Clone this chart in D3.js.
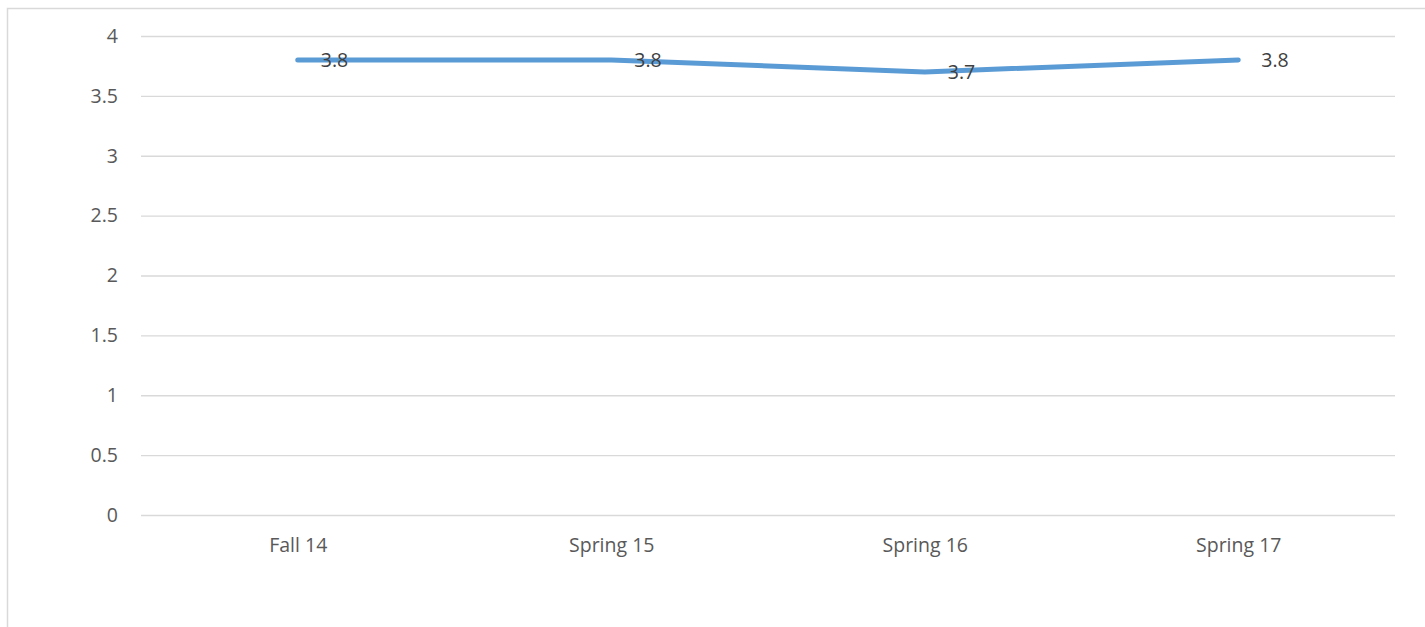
<!DOCTYPE html>
<html><head><meta charset="utf-8">
<script src="https://cdn.jsdelivr.net/npm/d3@7"></script>
<style>body{margin:0;background:#fff}svg{display:block}</style>
</head><body>
<script>
const categories = ["Fall 14", "Spring 15", "Spring 16", "Spring 17"];
const values = [3.8, 3.8, 3.7, 3.8];
const yTicks = [0, 0.5, 1, 1.5, 2, 2.5, 3, 3.5, 4];

(function () {
const W = 1425, H = 627;
const svg = d3.select("body").append("svg").attr("width", W).attr("height", H);
svg.append("rect").attr("x", 7.5).attr("y", 8.5).attr("width", W + 10).attr("height", H + 10)
  .attr("fill", "#fff").attr("stroke", "#d9d9d9").attr("stroke-width", 1.5);

const mLeft = 141, mRight = 1395, mTop = 36, mBottom = 515;
const x = d3.scalePoint().domain(categories).range([mLeft, mRight]).padding(0.5);
const y = d3.scaleLinear().domain([0, 4]).range([mBottom, mTop]);
const font = "'Open Sans', 'Liberation Sans', sans-serif";
const fs = "19.5px";

const yAxis = svg.append("g").attr("transform", `translate(${mLeft},0)`)
  .call(d3.axisLeft(y).tickValues(yTicks).tickSize(-(mRight - mLeft)).tickPadding(23).tickFormat(d3.format("")));
yAxis.select(".domain").remove();
yAxis.selectAll(".tick line").attr("stroke", "#d9d9d9").attr("stroke-width", 1.3);
yAxis.selectAll(".tick text").attr("fill", "#595959").style("font-family", font).style("font-size", fs);

const xAxis = svg.append("g").attr("transform", `translate(0,${mBottom})`)
  .call(d3.axisBottom(x).tickSize(0).tickPadding(23));
xAxis.select(".domain").remove();
xAxis.selectAll(".tick text").attr("fill", "#595959").style("font-family", font).style("font-size", fs);

const line = d3.line().x((d, i) => x(categories[i])).y(d => y(d));
svg.append("path").datum(values).attr("d", line).attr("fill", "none")
  .attr("stroke", "#5b9bd5").attr("stroke-width", 5).attr("stroke-linecap", "round").attr("stroke-linejoin", "round");

svg.selectAll(".lbl").data(values).enter().append("text")
  .attr("x", (d, i) => x(categories[i]) + 23).attr("y", d => y(d) + 2)
  .attr("dominant-baseline", "middle").attr("fill", "#404040")
  .style("font-family", font).style("font-size", fs)
  .text(d => d3.format(".1f")(d));
})();
</script>
</body></html>
